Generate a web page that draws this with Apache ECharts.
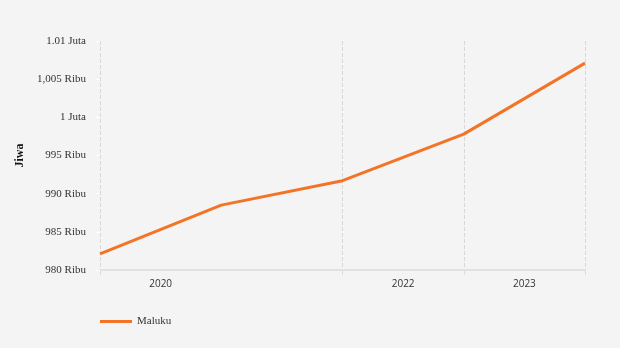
<!DOCTYPE html>
<html><head><meta charset="utf-8">
<script src="https://cdn.jsdelivr.net/npm/echarts@6/dist/echarts.min.js"></script>
<style>html,body{margin:0;padding:0;background:#f4f4f4}#c{width:620px;height:348px}</style>
</head><body><div id="c"></div>
<script>
const yearLabels = ['2020', '', '2022', '2023'];
const periods = ['P1', 'P2', 'P3', 'P4', 'P5'];
const maluku = [982100, 988500, 991700, 997800, 1007100];
const yTickLabels = ['980 Ribu', '985 Ribu', '990 Ribu', '995 Ribu', '1 Juta', '1,005 Ribu', '1.01 Juta'];
const yMin = 980000, yMax = 1010000, yStep = 5000;

const chart = echarts.init(document.getElementById('c'));
chart.setOption({
  backgroundColor: '#f4f4f4',
  animation: false,
  grid: { left: 100, right: 35, top: 41, bottom: 78 },
  legend: {
    left: 95, top: 311,
    itemWidth: 32, itemHeight: 3,
    textStyle: { fontFamily: 'Liberation Serif', fontSize: 11, color: '#333' },
    data: [{ name: 'Maluku', icon: 'rect' }]
  },
  xAxis: [{
    type: 'category',
    data: yearLabels,
    boundaryGap: true,
    axisLine: { show: true, lineStyle: { color: '#e2e2e2', width: 2 } },
    axisTick: { show: true, alignWithLabel: false, length: 5, lineStyle: { color: '#dddddd' },
      interval: function (i) { return i !== 1; } },
    axisLabel: { fontFamily: 'Open Sans', fontSize: 10, color: '#333', margin: 9, interval: 0 },
    splitLine: { show: true, lineStyle: { type: 'dashed', color: '#d8d8d8', width: 1 },
      interval: function (i) { return i !== 1; } }
  }, {
    type: 'category',
    data: periods,
    boundaryGap: false,
    show: false
  }],
  yAxis: {
    type: 'value',
    name: 'Jiwa',
    nameLocation: 'middle',
    nameGap: 69,
    nameTextStyle: { fontFamily: 'Liberation Serif', fontWeight: 'bold', fontSize: 12, color: '#111' },
    min: yMin, max: yMax, interval: yStep,
    axisLine: { show: false },
    axisTick: { show: true, length: 4, lineStyle: { color: '#ffffff' } },
    axisLabel: {
      fontFamily: 'Liberation Serif', fontSize: 11, color: '#333', margin: 14,
      padding: [3, 0, 0, 0],
      formatter: function (v) { return yTickLabels[Math.round((v - yMin) / yStep)]; }
    },
    splitLine: { show: false }
  },
  series: [{
    name: 'Maluku',
    type: 'line',
    xAxisIndex: 1,
    data: maluku,
    symbol: 'none',
    lineStyle: { color: '#f37327', width: 3 },
    itemStyle: { color: '#f37327' }
  }]
});
</script></body></html>
